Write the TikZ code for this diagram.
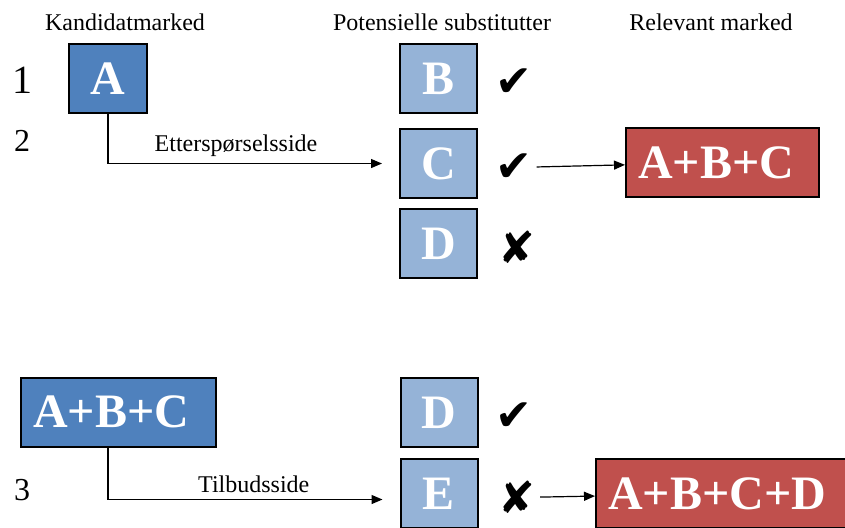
\documentclass[tikz,border=0pt]{standalone}
\usepackage{fontspec}
\setmainfont{Liberation Serif}
\newfontfamily\symbolfont{DejaVu Sans}
\usepackage{tikz}
\usetikzlibrary{positioning, arrows.meta}
\definecolor{candblue}{RGB}{79,129,189}
\definecolor{subblue}{RGB}{149,179,215}
\definecolor{relred}{RGB}{192,80,77}
\tikzstyle{market} = [rectangle, draw=black, line width=1pt, text=white, font=\fontsize{24}{28}\selectfont\bfseries, minimum height=34.5pt, inner xsep=6pt]
\tikzstyle{candidate} = [market, fill=candblue, minimum width=39pt]
\tikzstyle{substitute} = [market, fill=subblue, minimum width=38.5pt]
\tikzstyle{relevant} = [market, fill=relred, align=left]
\tikzstyle{heading} = [font=\fontsize{12}{14}\selectfont]
\tikzstyle{rownum} = [font=\fontsize{16}{18}\selectfont]
\tikzstyle{tick} = [font=\symbolfont\fontsize{22}{24}\selectfont, inner sep=0pt]
\tikzstyle{arrow} = [->,>={Stealth[length=5.5pt,width=4.5pt,inset=0pt]}, line width=0.6pt]

\begin{document}
\begin{tikzpicture}[x=0.5pt, y=-0.5pt]
        \useasboundingbox (0,0) rectangle (845,527);
        \clip (0,0) rectangle (845,527);

        % headings
        \node[heading] (cand head) at (125,22)  {Kandidatmarked};
        \node[heading] (sub head)  at (442,22)  {Potensielle substitutter};
        \node[heading] (rel head)  at (711,22)  {Relevant marked};

        % row numbers
        \node[rownum, font=\fontsize{20}{22}\selectfont] (row 1) at (22,80)  {1};
        \node[rownum] (row 2) at (22,141) {2};
        \node[rownum] (row 3) at (22,490) {3};

        % step 1 and 2
        \node[candidate]                              (A)      at (108,78.5)   {A};
        \node[substitute]                             (B)      at (438.5,78.5) {B};
        \node[substitute, below=7pt of B]             (C)      {C};
        \node[substitute, below=4.5pt of C]           (D)      {D};
        \node[tick, right=8.5pt of B, yshift=-2pt]    (B ok)   {✔};
        \node[tick, right=8.5pt of C, yshift=-2pt]    (C ok)   {✔};
        \node[tick, right=10pt of D, yshift=-2pt]     (D no)   {✘};
        \node[relevant, text width=84.5pt]            (ABC red) at (722.5,162.5) {A+B+C};

        \draw[arrow, shorten >=8.5pt] (A.south) |- node[heading, above, pos=0.72] {Etterspørselsside} (C.west);
        \draw[arrow, shorten <=2pt]   (C ok) -- (ABC red);

        % step 3
        \node[candidate, text width=85.5pt, align=left] (ABC)  at (118.5,412) {A+B+C};
        \node[substitute]                             (D2)     at (439,412.5) {D};
        \node[substitute, below=5pt of D2]            (E)      {E};
        \node[tick, right=8.5pt of D2, yshift=-2pt]   (D2 ok)  {✔};
        \node[tick, right=10pt of E, yshift=-2pt]     (E no)   {✘};
        \node[relevant, text width=125pt]             (ABCD)   at (733,493.5) {A+B+C+D};

        \draw[arrow, shorten >=8.5pt] (ABC.south -| A) |- node[heading, above, pos=0.75] {Tilbudsside} ([yshift=-3pt]E.west);
        \draw[arrow, shorten <=2pt]   (E no) -- (ABCD);
\end{tikzpicture}
\end{document}
